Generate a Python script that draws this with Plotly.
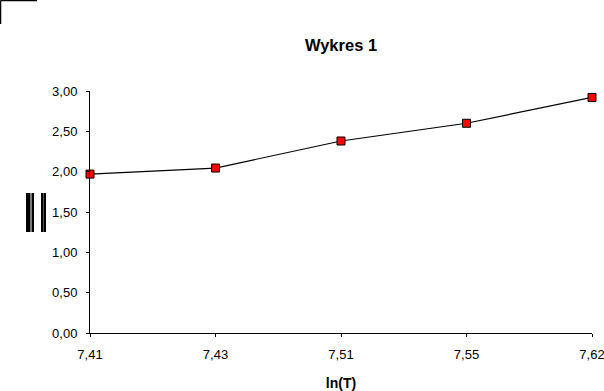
import plotly.graph_objects as go

categories = ["7,41", "7,43", "7,51", "7,55", "7,62"]
values = [1.97, 2.045, 2.38, 2.60, 2.92]
y_ticks = [0, 0.5, 1.0, 1.5, 2.0, 2.5, 3.0]
y_tick_labels = ["0,00", "0,50", "1,00", "1,50", "2,00", "2,50", "3,00"]

W, H = 604, 391
ml, mr, mt, mb = 90, 12, 91, 58

fig = go.Figure()
fig.add_trace(go.Scatter(
    x=list(range(len(categories))), y=values, mode="lines+markers",
    line=dict(color="black", width=1.2),
    marker=dict(symbol="square", size=8, color="#ff0000",
                line=dict(color="black", width=1)),
    showlegend=False, cliponaxis=False,
))

font = "Liberation Sans, Arial, sans-serif"
n = len(categories)
fig.update_layout(
    width=W, height=H,
    margin=dict(l=ml, r=mr, t=mt, b=mb),
    paper_bgcolor="white", plot_bgcolor="white",
    font=dict(family=font, size=13, color="black"),
    title=dict(text="<b>Wykres 1</b>", x=(ml + (W - mr - ml) / 2) / W, xanchor="center",
               y=1 - 45 / H, yanchor="middle", font=dict(size=16.5, family=font)),
    xaxis=dict(
        range=[0, n - 1], tickmode="array",
        tickvals=list(range(n)), ticktext=categories,
        showgrid=False, zeroline=False, showline=True, linecolor="black", linewidth=1,
        ticks="outside", ticklen=3, tickcolor="black", ticklabelstandoff=6,
        ticklabeloverflow="allow", automargin=False,
        title=dict(text="<b>ln(T)</b>", font=dict(size=14), standoff=18),
    ),
    yaxis=dict(
        range=[0, 3], tickmode="array", tickvals=y_ticks, ticktext=y_tick_labels,
        showgrid=False, zeroline=False, showline=True, linecolor="black", linewidth=1,
        ticks="outside", ticklen=3, tickcolor="black", ticklabelstandoff=6,
        automargin=False,
    ),
    xaxis2=dict(
        overlaying="x", range=[0, n - 1], tickmode="array", tickvals=list(range(n)),
        showticklabels=False, showgrid=False, zeroline=False, showline=False,
        ticks="inside", ticklen=3, tickcolor="black", side="bottom", anchor="y2",
        automargin=False,
    ),
    yaxis2=dict(
        overlaying="y", range=[0, 3], tickmode="array", tickvals=y_ticks,
        showticklabels=False, showgrid=False, zeroline=False, showline=False,
        ticks="inside", ticklen=3, tickcolor="black", side="left", anchor="x2",
        automargin=False,
    ),
)

# decorative: broken y-axis title glyph and top-left corner marker (pixel coords)
def to_paper(x, y):
    return (x - ml) / (W - ml - mr), (H - y - mb) / (H - mt - mb)

shapes = []
for (x0, x1, col) in [(26, 34, "black"), (41, 46, "black"), (30, 32, "#7a7a7a"), (43, 44, "#555555")]:
    px0, py0 = to_paper(x0, 232)
    px1, py1 = to_paper(x1, 193)
    shapes.append(dict(type="rect", xref="paper", yref="paper",
                       x0=px0, x1=px1, y0=py0, y1=py1,
                       fillcolor=col, line=dict(width=0)))
a = to_paper(0.5, 0.5)
b = to_paper(37, 0.5)
c = to_paper(0.5, 24)
shapes.append(dict(type="line", xref="paper", yref="paper",
                   x0=a[0], y0=a[1], x1=b[0], y1=b[1], line=dict(color="black", width=1.5)))
shapes.append(dict(type="line", xref="paper", yref="paper",
                   x0=a[0], y0=a[1], x1=c[0], y1=c[1], line=dict(color="black", width=1.5)))
fig.update_layout(shapes=shapes)

fig.write_html("out.html", config={"displayModeBar": False},
               post_script="document.body.style.margin='0px';")
